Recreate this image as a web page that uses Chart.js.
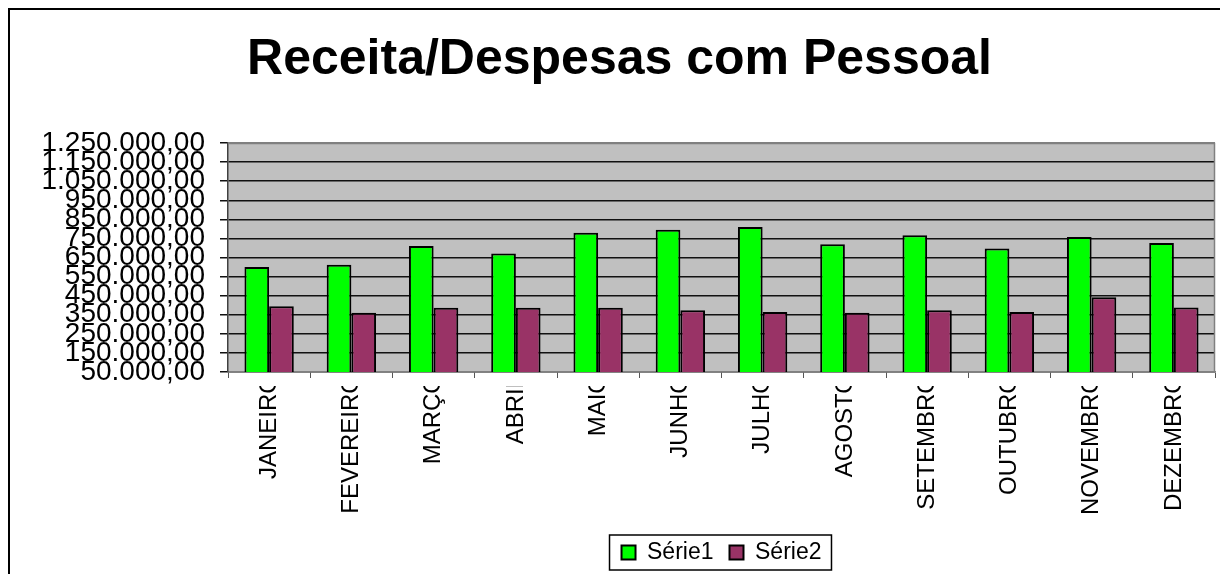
<!DOCTYPE html>
<html lang="pt-BR">
<head>
    <meta charset="UTF-8">
    <title>Receita/Despesas com Pessoal</title>
    <script src="https://cdn.jsdelivr.net/npm/chart.js"></script>
    <style>
        body { margin: 0; background: #fff; }
        #chart { display: block; }
    </style>
</head>
<body>
    <canvas id="chart" width="1220" height="574"></canvas>

    <script>
        // data
        const meses = ["JANEIRO", "FEVEREIRO", "MARÇO", "ABRIL", "MAIO", "JUNHO",
                       "JULHO", "AGOSTO", "SETEMBRO", "OUTUBRO", "NOVEMBRO", "DEZEMBRO"];
        const serie1 = [600000, 612000, 710000, 671000, 780000, 795000,
                        810000, 719000, 766000, 697000, 757000, 726000];
        const serie2 = [395000, 360000, 387000, 387000, 387000, 373000,
                        365000, 360000, 373000, 365000, 442000, 388000];
        const yMin = 50000, yMax = 1250000, yStep = 100000;

        const FONT = '"Liberation Sans", Arial, sans-serif';

        function fmt(v) {
            return Math.round(v).toString().replace(/\B(?=(\d{3})+(?!\d))/g, ".") + ",00";
        }

        // grey plot background + frame round the whole picture
        const decor = {
            id: "decor",
            beforeDraw(chart) {
                const { ctx, chartArea: a } = chart;
                ctx.save();
                ctx.fillStyle = "#C0C0C0";
                ctx.fillRect(a.left, a.top, a.right - a.left, a.bottom - a.top);
                ctx.restore();
            },
            beforeDatasetsDraw(chart) {
                const { ctx, chartArea: a } = chart;
                ctx.save();
                ctx.strokeStyle = "#808080";
                ctx.lineWidth = 1.5;
                ctx.beginPath();
                ctx.moveTo(a.left, a.top + 0.5);
                ctx.lineTo(a.right - 0.5, a.top + 0.5);
                ctx.lineTo(a.right - 0.5, a.bottom);
                ctx.stroke();
                ctx.restore();
            },
            afterDraw(chart) {
                const ctx = chart.ctx;
                ctx.save();
                // outer frame
                ctx.strokeStyle = "#000";
                ctx.lineWidth = 2;
                ctx.strokeRect(9, 9, 1230, 600);

                // rotated month labels, clipped like the original
                const x = chart.scales.x;
                ctx.fillStyle = "#000";
                ctx.font = "24px " + FONT;
                ctx.textAlign = "right";
                ctx.textBaseline = "middle";
                meses.forEach((m, i) => {
                    const px = x.getPixelForValue(i);
                    ctx.save();
                    ctx.beginPath();
                    ctx.rect(px - 30, 386, 60, 150);
                    ctx.clip();
                    ctx.translate(px, 375);
                    ctx.rotate(-Math.PI / 2);
                    ctx.fillText(m, 0, 0);
                    ctx.restore();
                });

                // legend box
                const hb = chart.legend.legendHitBoxes;
                if (hb && hb.length) {
                    const l = hb[0].left - 12;
                    const r = hb[hb.length - 1].left + hb[hb.length - 1].width + 10;
                    const t = hb[0].top - 6;
                    const b = hb[0].top + hb[0].height + 6;
                    ctx.strokeStyle = "#000";
                    ctx.lineWidth = 1.5;
                    ctx.strokeRect(l, t, r - l, b - t);
                }
                ctx.restore();
            }
        };

        new Chart(document.getElementById("chart"), {
            type: "bar",
            data: {
                labels: meses,
                datasets: [
                    {
                        label: "Série1",
                        data: serie1,
                        backgroundColor: "#00FF00",
                        borderColor: "#000",
                        borderWidth: 2,
                        categoryPercentage: 0.6,
                        barPercentage: 1.0
                    },
                    {
                        label: "Série2",
                        data: serie2,
                        backgroundColor: "#993366",
                        borderColor: "#000",
                        borderWidth: 2,
                        categoryPercentage: 0.6,
                        barPercentage: 1.0
                    }
                ]
            },
            options: {
                responsive: false,
                animation: false,
                layout: { padding: { left: 24, right: 5, top: 0, bottom: 0 } },
                plugins: {
                    title: {
                        display: true,
                        text: "Receita/Despesas com Pessoal",
                        color: "#000",
                        font: { family: FONT, size: 50, weight: "bold", lineHeight: 1.2 },
                        padding: { top: 30, bottom: 53 }
                    },
                    legend: {
                        position: "bottom",
                        fullSize: false,
                        labels: {
                            color: "#000",
                            font: { family: FONT, size: 23 },
                            boxWidth: 14,
                            boxHeight: 14,
                            padding: 16
                        }
                    },
                    tooltip: { enabled: false }
                },
                scales: {
                    x: {
                        afterFit: s => { s.height = 153; },
                        ticks: { display: false },
                        grid: {
                            drawOnChartArea: false,
                            drawTicks: true,
                            tickLength: 6,
                            color: "#555"
                        },
                        border: { color: "#808080", width: 1.5 }
                    },
                    y: {
                        min: yMin,
                        max: yMax,
                        afterFit: s => { s.width = 204; },
                        ticks: {
                            stepSize: yStep,
                            autoSkip: false,
                            color: "#000",
                            padding: 15,
                            font: { family: FONT, size: 28 },
                            callback: v => fmt(v)
                        },
                        grid: {
                            color: c => (c.tick && c.tick.value === yMax) ? "#808080" : "#111",
                            lineWidth: 1.5,
                            tickLength: 8,
                            tickColor: "#111"
                        },
                        border: { color: "#404040", width: 1.5 }
                    }
                }
            },
            plugins: [decor]
        });
    </script>
</body>
</html>
